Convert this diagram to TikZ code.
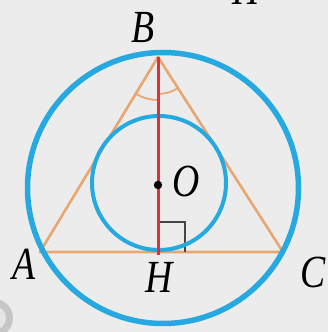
\documentclass[tikz,border=0pt]{standalone}
\usepackage{fontspec}
\setmainfont{Liberation Serif}
\definecolor{bgc}{RGB}{236,236,236}
\definecolor{bluec}{RGB}{38,168,224}
\definecolor{orangec}{RGB}{232,166,112}
\definecolor{redc}{RGB}{222,48,58}
\definecolor{grayc}{RGB}{70,70,70}
\tikzset{
  lbl/.style={inner sep=0pt, font=\fontsize{46}{46}\selectfont\itshape},
  bigcirc/.style={draw=bluec, line width=5.5pt},
  smallcirc/.style={draw=bluec, line width=4pt},
  tri/.style={draw=orangec, line width=2.6pt, line join=round},
  alt/.style={draw=redc, line width=3pt},
  angmark/.style={draw=orangec, line width=1.8pt},
  rightmark/.style={draw=grayc, line width=1.4pt}
}
\newcommand{\lab}[1]{\scalebox{0.82}[1]{#1}}
\begin{document}
\begin{tikzpicture}[x=1pt,y=1pt]
\clip (0,0) rectangle (328,332);
\fill[bgc] (0,0) rectangle (328,332);
% points
\coordinate (A) at (40,80);
\coordinate (B) at (158,275);
\coordinate (C) at (283,80);
\coordinate (H) at (158,80);
\coordinate (Hb) at (158,77);
\coordinate (O) at (158,147);
\coordinate (Oc) at (163,144);
\coordinate (Ic) at (159,149);
\coordinate (R1) at (158,110);
\coordinate (R2) at (185,110);
\coordinate (R3) at (185,80);
% gray object bottom left
\fill[gray!45] (-6,14) circle[radius=19];
\fill[gray!20] (-6,14) circle[radius=12];
% triangle
\draw[tri] (A) -- (B) -- (C) -- cycle;
% angle marks
\draw[angmark] (B) ++(238.8:43) arc[start angle=238.8, end angle=270, radius=43];
\draw[angmark] (B) ++(270:37) arc[start angle=270, end angle=302.7, radius=37];
% right angle mark
\draw[rightmark] (R1) -- (R2) -- (R3);
% circles
\draw[bigcirc] (Oc) circle[radius=135.5];
\draw[smallcirc] (Ic) circle[radius=67];
% altitude
\draw[alt] (B) -- (Hb);
\fill (O) circle[radius=4.2];
% labels
\node[lbl] (lB) at (143,304) {\lab{B}};
\node[lbl] (lA) at (24,68) {\lab{A}};
\node[lbl] (lC) at (313,60) {\lab{C}};
\node[lbl] (lH) at (159,55) {\lab{H}};
\node[lbl] (lO) at (186,151) {\lab{O}};
\node[lbl, anchor=base] (lTop) at (246,327) {\lab{H}};
\end{tikzpicture}
\end{document}
